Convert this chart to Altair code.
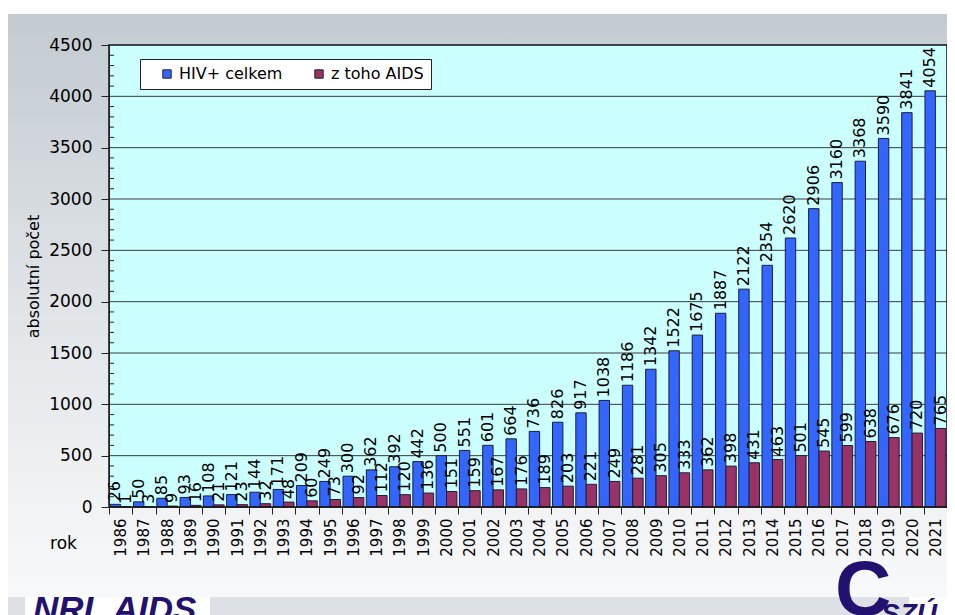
import altair as alt
import pandas as pd

years = [str(y) for y in range(1986, 2022)]
hiv_total = [26, 50, 85, 93, 108, 121, 144, 171, 209, 249,
             300, 362, 392, 442, 500, 551, 601, 664, 736, 826,
             917, 1038, 1186, 1342, 1522, 1675, 1887, 2122, 2354, 2620,
             2906, 3160, 3368, 3590, 3841, 4054]
aids = [1, 3, 9, 16, 21, 23, 32, 48, 60, 73,
        92, 112, 120, 136, 151, 159, 167, 176, 189, 203,
        221, 249, 281, 305, 333, 362, 398, 431, 463, 501,
        545, 599, 638, 676, 720, 765]
series = ["HIV+ celkem", "z toho AIDS"]
colors = ["#3366FF", "#993366"]
grid_values = [500, 1000, 1500, 2000, 2500, 3000, 3500, 4000]
y_ticks = [0, 500, 1000, 1500, 2000, 2500, 3000, 3500, 4000, 4500]
minor_ticks = [v for v in range(100, 4500, 100) if v % 500 != 0]

rows = []
for i, yr in enumerate(years):
    rows.append({"rok": yr, "serie": series[0], "value": hiv_total[i]})
    rows.append({"rok": yr, "serie": series[1], "value": aids[i]})
df = pd.DataFrame(rows)

W, H = 838, 462
FONT = "DejaVu Sans"
one = pd.DataFrame({"a": [0]})

yscale = alt.Scale(domain=[0, 4500], nice=False, zero=True)
yaxis = alt.Axis(title="absolutní počet", values=y_ticks, format="d", labelFontSize=17,
                 labelFont=FONT, labelColor="black", tickSize=8,
                 tickColor="#222", domainColor="#222", labelPadding=9,
                 grid=False, titleFontSize=16, titleFont=FONT,
                 titleFontWeight="normal", titleColor="black",
                 titlePadding=7, zindex=1)
xaxis = alt.Axis(title="rok", labelAngle=270, labelFontSize=15, labelFont=FONT,
                 labelColor="black", tickBand="extent", tickSize=7,
                 tickColor="#222", domainColor="#222", labelPadding=4,
                 titleAngle=0, titleX=-46, titleY=36, titleAlign="center",
                 titleBaseline="middle", titleFontSize=17, titleFont=FONT,
                 titleFontWeight="normal", titleColor="black", zindex=1)

bg = alt.Chart(one).mark_rect(
    fill=alt.Gradient(gradient="linear", x1=0, y1=0, x2=0, y2=1,
                      stops=[alt.GradientStop(color="#C3CBD1", offset=0),
                             alt.GradientStop(color="#E6E9EC", offset=0.6),
                             alt.GradientStop(color="#F8F9FA", offset=1)])
).encode(x=alt.value(-105), x2=alt.value(846), y=alt.value(-31), y2=alt.value(552))

band = alt.Chart(one).mark_rect(fill="#DDE1E5").encode(
    x=alt.value(-109), x2=alt.value(800), y=alt.value(552), y2=alt.value(620))
white_box = alt.Chart(one).mark_rect(fill="#FFFFFF").encode(
    x=alt.value(-84), x2=alt.value(101), y=alt.value(552), y2=alt.value(620))

plot_bg = alt.Chart(one).mark_rect(fill="#CCFFFF").encode(
    x=alt.value(0), x2=alt.value(W), y=alt.value(0), y2=alt.value(H))

grid = alt.Chart(pd.DataFrame({"value": grid_values})).mark_rule(
    color="#3A3A3A", strokeWidth=1
).encode(y=alt.Y("value:Q", scale=yscale, axis=yaxis), x=alt.value(0), x2=alt.value(W))

minor = alt.Chart(pd.DataFrame({"value": minor_ticks})).mark_rule(
    color="#222222", strokeWidth=1
).encode(y=alt.Y("value:Q", scale=yscale, axis=yaxis), x=alt.value(0), x2=alt.value(5))

xenc = alt.X("rok:N", sort=years, scale=alt.Scale(paddingInner=0, paddingOuter=0), axis=xaxis)
yenc = alt.Y("value:Q", scale=yscale, axis=yaxis)
off = alt.XOffset("serie:N", sort=series, scale=alt.Scale(paddingInner=0, paddingOuter=0.12))

bars = alt.Chart(df).mark_bar(stroke="#1E1E3C", strokeWidth=1).encode(
    x=xenc, xOffset=off, y=yenc,
    color=alt.Color("serie:N", sort=series,
                    scale=alt.Scale(domain=series, range=colors),
                    legend=alt.Legend(title=None, orient="none", legendX=31, legendY=14,
                                      direction="horizontal", fillColor="white",
                                      strokeColor="#222", padding=7, symbolType="square",
                                      symbolSize=70, symbolStrokeColor="#222",
                                      symbolStrokeWidth=1, labelFontSize=16,
                                      labelFont=FONT, labelColor="black",
                                      columnPadding=16, symbolOffset=12, labelOffset=4))
)

labels = alt.Chart(df).mark_text(
    angle=270, align="left", baseline="middle", dx=3, fontSize=16, font=FONT, color="black"
).encode(x=xenc, xOffset=off, y=yenc, text="value:Q")

border = alt.Chart(one).mark_rect(fill="transparent", stroke="#111111", strokeWidth=1.5).encode(
    x=alt.value(0), x2=alt.value(W), y=alt.value(0), y2=alt.value(H))

nrl = alt.Chart(one).mark_text(
    align="left", baseline="alphabetic", fontSize=35, font="Liberation Sans",
    fontWeight="bold", fontStyle="italic", color="#22116E"
).encode(x=alt.value(-76), y=alt.value(576), text=alt.value("NRL AIDS"))

logo_c = alt.Chart(one).mark_text(
    align="left", baseline="alphabetic", fontSize=78, font="Liberation Sans",
    fontWeight="bold", color="#22116E"
).encode(x=alt.value(726), y=alt.value(570), text=alt.value("C"))

szu = alt.Chart(one).mark_text(
    align="left", baseline="alphabetic", fontSize=28, font="Liberation Sans",
    fontWeight="bold", fontStyle="italic", color="#22116E"
).encode(x=alt.value(772), y=alt.value(578), text=alt.value("SZÚ"))

chart = alt.layer(
    bg, band, white_box, plot_bg, grid, minor, bars, labels, border, logo_c, nrl, szu
).resolve_scale(y="shared", x="shared").properties(
    width=W, height=H,
    autosize=alt.AutoSizeParams(type="none"),
    padding={"left": 101, "top": 37, "right": 0, "bottom": 112},
    background="white",
).configure_view(stroke=None).configure(font=FONT)

chart.save("out.html", embed_options={"renderer": "svg", "actions": False})
